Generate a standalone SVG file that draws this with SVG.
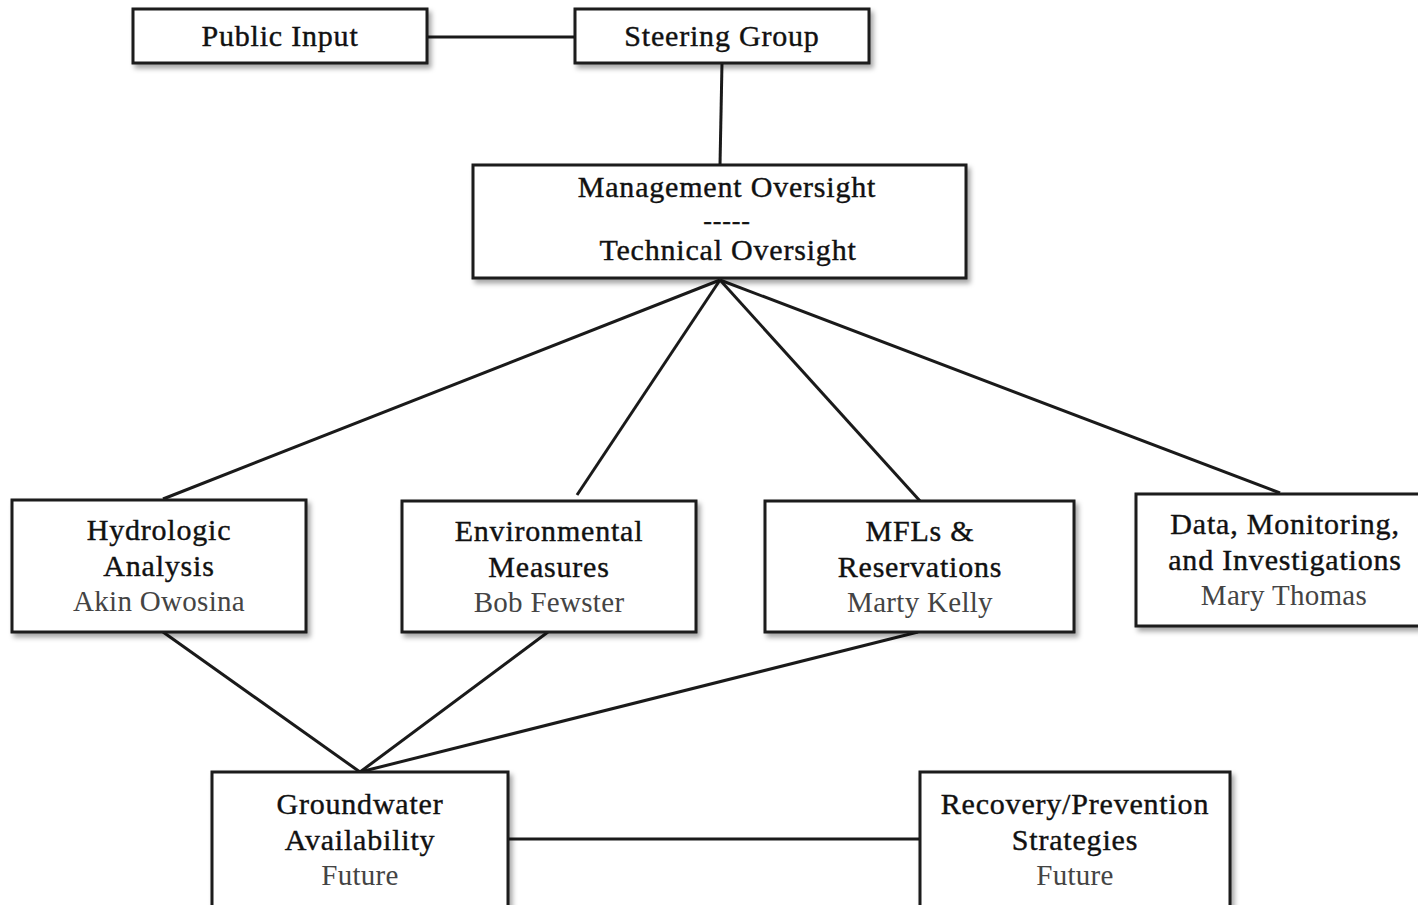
<svg xmlns="http://www.w3.org/2000/svg" width="1418" height="905" viewBox="0 0 1418 905">
<defs>
<filter id="sh" x="-10%" y="-10%" width="130%" height="140%">
<feDropShadow dx="3" dy="4" stdDeviation="2.5" flood-color="#000" flood-opacity="0.35"/>
</filter>
<style>
.box{fill:#fff;stroke:#1a1a1a;stroke-width:3;filter:url(#sh)}
.t{font-family:"Liberation Serif","DejaVu Serif",serif;font-size:30px;letter-spacing:0.8px;fill:#111;stroke:#111;stroke-width:0.4px;text-anchor:middle}
.n{font-family:"Liberation Serif","DejaVu Serif",serif;font-size:29px;letter-spacing:0.3px;fill:#444;text-anchor:middle}
.c{stroke:#1a1a1a;stroke-width:3;fill:none}
</style>
</defs>
<rect width="1418" height="905" fill="#fff"/>
<g id="connectors">
<line class="c" x1="427" y1="37" x2="575" y2="37"/>
<line class="c" x1="722" y1="63" x2="720" y2="165"/>
<line class="c" x1="720" y1="280" x2="163" y2="499"/>
<line class="c" x1="720" y1="280" x2="577" y2="495"/>
<line class="c" x1="720" y1="280" x2="920" y2="501"/>
<line class="c" x1="720" y1="280" x2="1280" y2="493"/>
<line class="c" x1="163" y1="632" x2="360" y2="772"/>
<line class="c" x1="548" y1="632" x2="360" y2="772"/>
<line class="c" x1="918" y1="632" x2="360" y2="772"/>
<line class="c" x1="508" y1="839" x2="920" y2="839"/>
</g>
<g id="public-input">
<rect class="box" x="133" y="9" width="294" height="54"/>
<text class="t" x="280" y="46">Public Input</text>
</g>
<g id="steering-group">
<rect class="box" x="575" y="9" width="294" height="54"/>
<text class="t" x="722" y="46">Steering Group</text>
</g>
<g id="oversight">
<rect class="box" x="473" y="165" width="493" height="113"/>
<text class="t" x="727" y="197">Management Oversight</text>
<text class="t" x="727" y="229" style="font-size:26px">-----</text>
<text class="t" x="728" y="260">Technical Oversight</text>
</g>
<g id="hydrologic">
<rect class="box" x="12" y="500" width="294" height="132"/>
<text class="t" x="159" y="540">Hydrologic</text>
<text class="t" x="159" y="576">Analysis</text>
<text class="n" x="159" y="611">Akin Owosina</text>
</g>
<g id="environmental">
<rect class="box" x="402" y="501" width="294" height="131"/>
<text class="t" x="549" y="541">Environmental</text>
<text class="t" x="549" y="577">Measures</text>
<text class="n" x="549" y="612">Bob Fewster</text>
</g>
<g id="mfls">
<rect class="box" x="765" y="501" width="309" height="131"/>
<text class="t" x="920" y="541">MFLs &amp;</text>
<text class="t" x="920" y="577">Reservations</text>
<text class="n" x="920" y="612">Marty Kelly</text>
</g>
<g id="data">
<rect class="box" x="1136" y="494" width="290" height="132"/>
<text class="t" x="1285" y="534">Data, Monitoring,</text>
<text class="t" x="1285" y="570">and Investigations</text>
<text class="n" x="1284" y="605">Mary Thomas</text>
</g>
<g id="groundwater">
<rect class="box" x="212" y="772" width="296" height="140"/>
<text class="t" x="360" y="814">Groundwater</text>
<text class="t" x="360" y="850">Availability</text>
<text class="n" x="360" y="885">Future</text>
</g>
<g id="recovery">
<rect class="box" x="920" y="772" width="310" height="140"/>
<text class="t" x="1075" y="814">Recovery/Prevention</text>
<text class="t" x="1075" y="850">Strategies</text>
<text class="n" x="1075" y="885">Future</text>
</g>
</svg>
